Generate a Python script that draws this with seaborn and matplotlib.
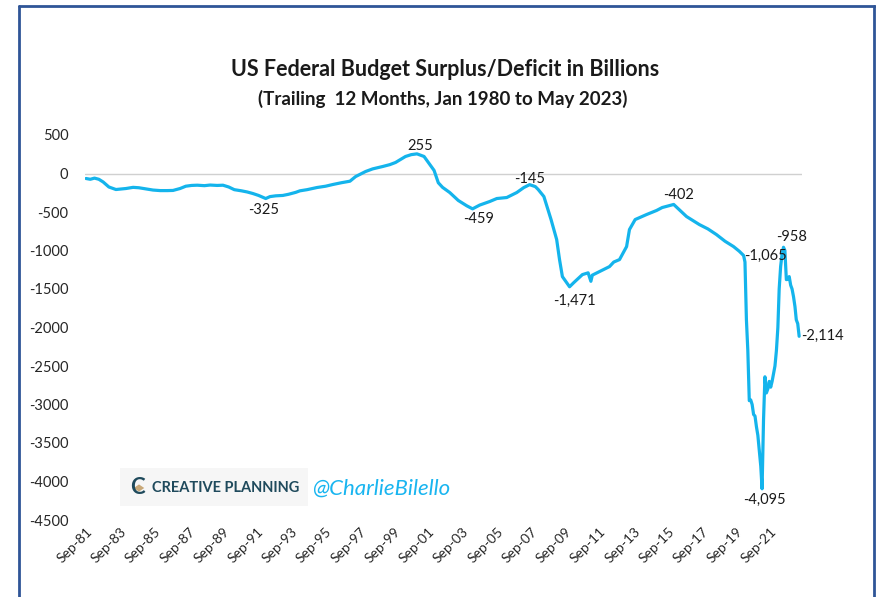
import matplotlib
matplotlib.use("Agg")
import matplotlib.pyplot as plt
import matplotlib.dates as mdates
from matplotlib.patches import Rectangle, RegularPolygon
from matplotlib.lines import Line2D
import seaborn as sns
import pandas as pd

# trailing 12m surplus/deficit, billions
months = [
    "1981-09", "1981-12", "1982-03", "1982-06", "1982-09", "1983-01", "1983-06", "1983-10",
    "1984-01", "1984-06", "1984-10", "1985-03", "1985-08", "1986-01", "1986-06", "1986-10",
    "1987-03", "1987-07", "1987-11", "1988-03", "1988-08", "1988-12", "1989-05", "1989-09",
    "1990-01", "1990-05", "1990-10", "1991-02", "1991-06", "1991-10", "1992-03", "1992-06",
    "1992-10", "1993-03", "1993-07", "1993-12", "1994-03", "1994-08", "1995-03", "1995-09",
    "1996-02", "1996-08", "1997-02", "1997-06", "1998-01", "1998-06", "1999-01", "1999-06",
    "1999-10", "2000-05", "2000-09", "2001-01", "2001-06", "2001-10", "2002-01", "2002-04",
    "2002-07", "2002-12", "2003-06", "2003-12", "2004-04", "2004-09", "2005-04", "2005-09",
    "2006-04", "2006-11", "2007-04", "2007-08", "2007-12", "2008-02", "2008-06", "2008-11",
    "2009-03", "2009-05", "2009-07", "2009-12", "2010-03", "2010-09", "2011-01", "2011-03",
    "2011-04", "2011-09", "2012-04", "2012-07", "2012-11", "2013-04", "2013-06", "2013-10",
    "2014-06", "2015-01", "2015-05", "2016-01", "2016-10", "2017-07", "2018-01", "2018-07",
    "2019-01", "2019-07", "2019-11", "2020-02", "2020-03", "2020-04", "2020-05", "2020-06",
    "2020-07", "2020-08", "2020-09", "2020-10", "2020-11", "2020-12", "2021-01", "2021-02",
    "2021-03", "2021-04", "2021-05", "2021-06", "2021-07", "2021-08", "2021-09", "2021-10",
    "2021-11", "2021-12", "2022-01", "2022-02", "2022-03", "2022-04", "2022-05", "2022-06",
    "2022-07", "2022-08", "2022-09", "2022-10", "2022-11", "2022-12", "2023-01", "2023-02",
    "2023-03", "2023-04", "2023-05",
]
balance = [
    -65, -75, -60, -75, -110, -175, -208, -200,
    -195, -180, -185, -200, -215, -222, -222, -220,
    -195, -165, -155, -152, -158, -150, -155, -152,
    -175, -210, -225, -240, -260, -285, -325, -300,
    -290, -285, -270, -245, -225, -210, -182, -165,
    -143, -120, -100, -40, 26, 60, 91, 115,
    143, 221, 245, 255, 221, 117, 40, -120,
    -180, -247, -350, -420, -459, -410, -364, -325,
    -312, -247, -182, -145, -170, -208, -299, -598,
    -858, -1118, -1339, -1471, -1417, -1313, -1290, -1400,
    -1320, -1274, -1209, -1150, -1118, -949, -728, -598,
    -533, -480, -442, -402, -559, -663, -720, -793,
    -880, -949, -1010, -1065, -1150, -1900, -2300, -2950,
    -2940, -3000, -3130, -3150, -3290, -3400, -3600, -3800,
    -4095, -3200, -2640, -2850, -2800, -2700, -2775, -2700,
    -2600, -2500, -2300, -2000, -1500, -1209, -1050, -958,
    -1000, -1378, -1375, -1339, -1450, -1500, -1600, -1729,
    -1900, -1950, -2114,
]

# labelled points: (month, text, offset x px, offset y px, ha)
labels = [
    ("1992-03", "-325", -2, -11, "center"),
    ("2001-01", "255", 3, 8, "center"),
    ("2004-04", "-459", 6, -10, "center"),
    ("2007-08", "-145", 0, 6, "center"),
    ("2009-12", "-1,471", 5, -14, "center"),
    ("2016-01", "-402", 5, 9, "center"),
    ("2020-02", "-1,065", 1, 0, "left"),
    ("2022-06", "-958", 8, 10, "center"),
    ("2023-05", "-2,114", 2, 0, "left"),
    ("2021-03", "-4,095", 2, -11, "center"),
]

df = pd.DataFrame({"date": pd.to_datetime(months), "value": balance})

sns.set_style("white")
plt.rcParams["font.family"] = ["Lato", "DejaVu Sans"]

fig = plt.figure(figsize=(8.76, 5.97), dpi=100)
ax = fig.add_axes([85 / 876, 1 - 520 / 597, (802 - 85) / 876, (520 - 135) / 597])

ax.axhline(0, color="#d0d0d0", lw=1, zorder=1)
sns.lineplot(data=df, x="date", y="value", ax=ax, color="#14b4ec", lw=2.3, zorder=3)

ax.set_xlim(pd.Timestamp("1981-08-10"), pd.Timestamp("2023-07-01"))
ax.set_ylim(-4500, 500)
ax.set_yticks(range(-4500, 501, 500))
ax.set_yticklabels([str(v) for v in range(-4500, 501, 500)], fontsize=10.5)
ticks = pd.date_range("1981-09-01", "2021-09-01", freq="24MS")
ax.set_xticks(ticks)
ax.set_xticklabels([t.strftime("%b-%y") for t in ticks], rotation=45, ha="right",
                   rotation_mode="anchor", fontsize=10)
ax.tick_params(axis="y", length=0, pad=12)
ax.tick_params(axis="x", length=0, pad=4)
ax.set_xlabel("")
ax.set_ylabel("")
for s in ax.spines.values():
    s.set_visible(False)

lookup = dict(zip(months, balance))
for m, txt, dx, dy, ha in labels:
    ax.annotate(txt, (mdates.date2num(pd.Timestamp(m)), lookup[m]),
                xytext=(dx * 0.72, dy * 0.72), textcoords="offset points",
                ha=ha, va="center", fontsize=10.5, color="#1a1a1a", zorder=5)

fig.text(445 / 876, 1 - 70 / 597, "US Federal Budget Surplus/Deficit in Billions",
         ha="center", va="center", fontsize=15.5, fontweight="bold", color="#1a1a1a")
fig.text(443 / 876, 1 - 99 / 597, "(Trailing  12 Months, Jan 1980 to May 2023)",
         ha="center", va="center", fontsize=13.5, fontweight="bold", color="#1a1a1a")

# watermark
fig.patches.append(Rectangle((120 / 876, 1 - 506 / 597), 188 / 876, 38 / 597,
                             transform=fig.transFigure, facecolor="#f6f6f6",
                             edgecolor="none", zorder=0))
fig.text(137 / 876, 1 - 488 / 597, "C", ha="center", va="center", fontsize=16,
         fontweight="bold", color="#1f4a5c")
fig.patches.append(RegularPolygon((139 / 876, 1 - 488 / 597), 4, radius=0.006,
                                  transform=fig.transFigure, facecolor="#c8a878",
                                  edgecolor="none", zorder=3))
fig.text(152 / 876, 1 - 488 / 597, "CREATIVE PLANNING", ha="left", va="center",
         fontsize=10.5, fontweight="bold", color="#1f4a5c")
fig.text(312 / 876, 1 - 489 / 597, "@CharlieBilello", ha="left", va="center",
         fontsize=16, style="italic", color="#19b5f0")

# frame around the picture
bc = "#2f5597"
fig.add_artist(Line2D([19 / 876, 19 / 876], [0, 1 - 6 / 597], transform=fig.transFigure,
                      color=bc, lw=2))
fig.add_artist(Line2D([19 / 876, 875 / 876], [1 - 6 / 597, 1 - 6 / 597],
                      transform=fig.transFigure, color=bc, lw=2))
fig.add_artist(Line2D([874 / 876, 874 / 876], [0, 1 - 6 / 597], transform=fig.transFigure,
                      color=bc, lw=2))

fig.savefig("out.png", dpi=100)
